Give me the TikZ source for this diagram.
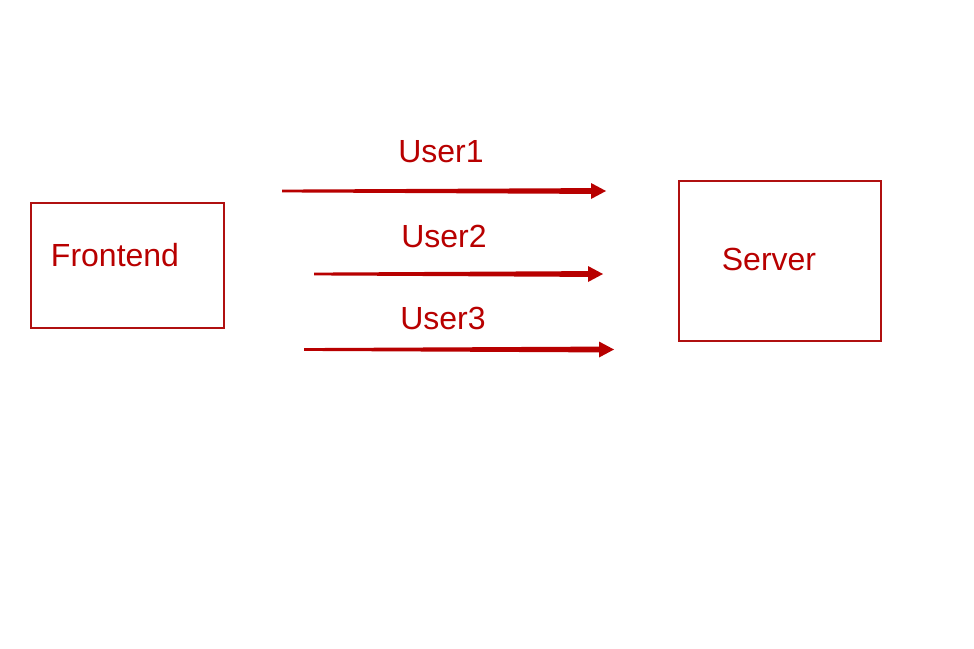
\documentclass[tikz,border=0pt]{standalone}
\usepackage{fontspec}
\setmainfont{Liberation Sans}
\usetikzlibrary{calc}
\definecolor{darkred}{RGB}{184,0,0}
\definecolor{boxred}{RGB}{176,16,16}
\tikzset{
  box/.style={draw=boxred, line width=1.8pt, fill=white},
  lbl/.style={text=darkred, font=\fontsize{32}{38}\selectfont, inner sep=0pt},
}
% tapered arrow: thin tail, thicker shaft near the head
\newcommand{\taperarrow}[2]{%
  \fill[darkred] ($(#1)+(0,-1.4)$) -- ($(#2)+(-15,-2.9)$) -- ($(#2)+(-15,-8)$)
    -- (#2) -- ($(#2)+(-15,8)$) -- ($(#2)+(-15,2.9)$) -- ($(#1)+(0,1.4)$) -- cycle;}
\begin{document}
\begin{tikzpicture}[x=1pt,y=-1pt]
  \fill[white] (0,0) rectangle (974,648);
  \useasboundingbox (0,0) rectangle (974,648);

  % boxes
  \draw[box] (31,203) rectangle (224,328);
  \draw[box] (679,181) rectangle (881,341);
  \node[lbl] (frontend) at (115,255) {Frontend};
  \node[lbl] (server) at (769,259) {Server};

  % labels
  \node[lbl] (u1) at (441,152) {User1};
  \node[lbl] (u2) at (444,236) {User2};
  \node[lbl] (u3) at (443,318) {User3};

  % arrows
  \coordinate (a1s) at (282,191);
  \coordinate (a1e) at (606,191);
  \coordinate (a2s) at (314,274);
  \coordinate (a2e) at (603,274);
  \coordinate (a3s) at (304,349.5);
  \coordinate (a3e) at (614,349.5);
  \taperarrow{a1s}{a1e}
  \taperarrow{a2s}{a2e}
  \taperarrow{a3s}{a3e}
\end{tikzpicture}
\end{document}
